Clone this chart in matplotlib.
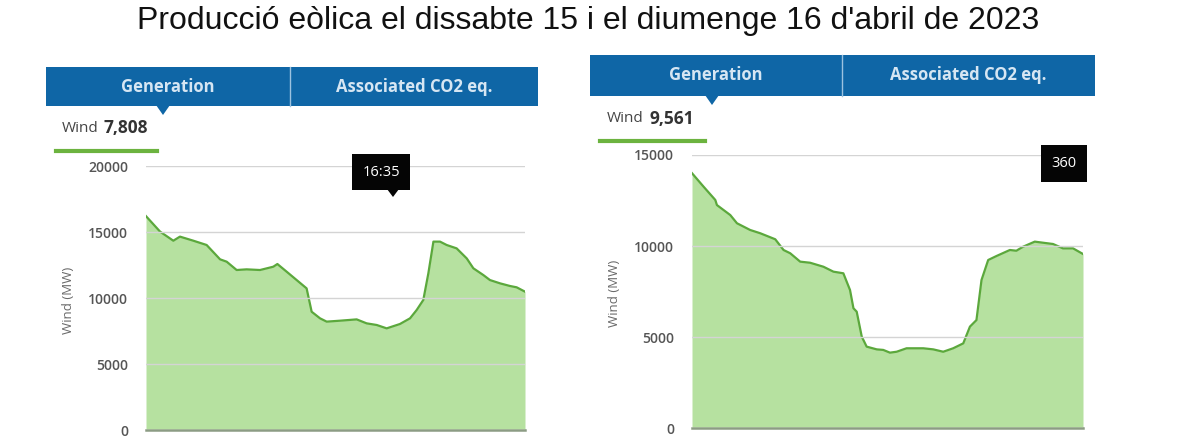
import matplotlib
matplotlib.use("Agg")
import matplotlib.pyplot as plt
from matplotlib.patches import Rectangle, Polygon

W, H = 1200, 448

# dades: hores i MW
sat_hours = [0, 0.89, 1.73, 2.15, 3.0, 3.84, 4.69, 5.11, 5.74, 6.37, 7.22, 8.06,
             8.32, 8.91, 9.54, 10.17, 10.49, 11.02, 11.44, 12.28, 13.34, 13.97,
             14.61, 15.24, 16.08, 16.72, 17.14, 17.56, 17.88, 18.20, 18.62, 19.04,
             19.67, 20.31, 20.73, 21.36, 21.78, 22.42, 23.05, 23.47, 24.0]
sat_wind = [16200, 15030, 14340, 14650, 14340, 14015, 12930, 12750, 12120, 12170,
            12120, 12370, 12575, 11990, 11360, 10730, 8960, 8460, 8210, 8280,
            8380, 8080, 7955, 7700, 8030, 8460, 9090, 9850, 11870, 14270, 14270,
            14015, 13760, 13000, 12250, 11740, 11360, 11110, 10910, 10810, 10480]

sun_hours = [0, 0.71, 1.43, 1.53, 2.35, 2.76, 3.57, 4.19, 5.11, 5.62, 6.03, 6.64,
             7.25, 8.07, 8.68, 9.29, 9.70, 9.91, 10.11, 10.42, 10.72, 11.34, 11.74,
             12.15, 12.56, 13.17, 14.2, 14.81, 15.42, 16.03, 16.65, 17.06, 17.46,
             17.77, 18.18, 18.69, 19.51, 19.91, 20.32, 21.04, 21.55, 22.16, 22.77,
             23.39, 24.0]
sun_wind = [14000, 13260, 12530, 12250, 11700, 11250, 10880, 10700, 10370, 9780,
            9600, 9140, 9080, 8860, 8590, 8500, 7580, 6580, 6390, 5020, 4470, 4320,
            4290, 4140, 4190, 4380, 4380, 4320, 4190, 4380, 4650, 5570, 5930, 8130,
            9230, 9450, 9780, 9740, 9960, 10240, 10180, 10110, 9870, 9870, 9560]

title = "Producció eòlica el dissabte 15 i el diumenge 16 d'abril de 2023"
tab_labels = ["Generation", "Associated CO2 eq."]

BLUE = "#0f66a6"
TABTXT = "#d6e6f3"
FILL = "#b6e1a0"
LINE = "#5ba83c"
GRID = "#d4d4d4"
TICK = "#555555"


def fx(px):
    return px / W


def fy(py):
    return 1 - py / H


fig = plt.figure(figsize=(12, 4.48), dpi=100)
fig.text(fx(588), fy(21), title, ha="center", va="center",
         fontsize=23, family="Liberation Sans", color="#111111")


def panel(x0, x1, ytop, ybot, hours, wind, ymax, step, hdr, div, tip, wind_pos,
          seg, box, box_txt, ylab_x):
    ax = fig.add_axes([fx(x0), fy(ybot), fx(x1) - fx(x0), fy(ytop) - fy(ybot)])
    ax.fill_between(hours, wind, 0, color=FILL, lw=0)
    ax.plot(hours, wind, color=LINE, lw=1.6)
    ax.set_xlim(0, 24)
    ax.set_ylim(0, ymax)
    ax.set_yticks(range(0, ymax + 1, step))
    ax.yaxis.grid(True, color=GRID, lw=1)
    ax.set_axisbelow(False)
    for g in ax.get_ygridlines():
        g.set_zorder(3)
    ax.set_xticks([])
    for s in ["top", "right", "left"]:
        ax.spines[s].set_visible(False)
    ax.spines["bottom"].set_color("#8c9c84")
    ax.spines["bottom"].set_linewidth(1.8)
    ax.tick_params(axis="y", length=0, pad=13, labelsize=10, labelcolor=TICK)
    for t in ax.get_yticklabels():
        t.set_family("Open Sans")
        t.set_fontweight("semibold")
    fig.text(fx(ylab_x), fy((ytop + ybot) / 2 + 2), "Wind (MW)", rotation=90,
             ha="center", va="center", fontsize=9.5, color="#6a6a6a",
             family="Open Sans")

    # pestanyes
    hx0, hx1, hy0, hy1 = hdr
    fig.add_artist(Rectangle((fx(hx0), fy(hy1)), fx(hx1) - fx(hx0),
                             fy(hy0) - fy(hy1), transform=fig.transFigure,
                             color=BLUE, lw=0))
    fig.add_artist(plt.Line2D([fx(div), fx(div)], [fy(hy1), fy(hy0)],
                              transform=fig.transFigure, color="#9cc2e0", lw=1))
    for lab, cx in zip(tab_labels, [(hx0 + div) / 2, (div + hx1) / 2]):
        fig.text(fx(cx), fy((hy0 + hy1) / 2), lab, ha="center", va="center",
                 fontsize=12, fontweight="bold", color=TABTXT, family="Open Sans")
    tx = tip
    fig.add_artist(Polygon([(fx(tx - 7), fy(hy1 - 1)), (fx(tx + 7), fy(hy1 - 1)),
                            (fx(tx), fy(hy1 + 9))], closed=True,
                           transform=fig.transFigure, color=BLUE, lw=0))

    # valor actual
    wx, nx, wy, val = wind_pos
    fig.text(fx(wx), fy(wy), "Wind", ha="left", va="center", fontsize=11,
             color="#444444", family="Open Sans")
    fig.text(fx(nx), fy(wy), val, ha="left", va="center", fontsize=12.5,
             fontweight="bold", color="#333333", family="Open Sans")
    sx0, sx1, sy = seg
    fig.add_artist(plt.Line2D([fx(sx0), fx(sx1)], [fy(sy), fy(sy)],
                              transform=fig.transFigure, color="#6cb33f", lw=3))

    # tooltip negre
    bx0, bx1, by0, by1, ptr = box
    fig.add_artist(Rectangle((fx(bx0), fy(by1)), fx(bx1) - fx(bx0),
                             fy(by0) - fy(by1), transform=fig.transFigure,
                             color="#050505", lw=0, zorder=5))
    if ptr:
        fig.add_artist(Polygon([(fx(ptr - 6), fy(by1 - 1)), (fx(ptr + 6), fy(by1 - 1)),
                                (fx(ptr), fy(by1 + 7))], closed=True,
                               transform=fig.transFigure, color="#050505", lw=0,
                               zorder=5))
    fig.text(fx((bx0 + bx1) / 2), fy((by0 + by1) / 2), box_txt, ha="center",
             va="center", fontsize=10.5, color="white", family="Open Sans", zorder=6)
    return ax


panel(146, 525, 166, 430, sat_hours, sat_wind, 20000, 5000,
      (46, 538, 67, 106), 290, 163, (62, 103, 128, "7,808"), (56, 157, 151),
      (352, 410, 154, 190, 393), "16:35", 69)

panel(692, 1083, 155, 428, sun_hours, sun_wind, 15000, 5000,
      (590, 1095, 55, 96), 842, 712, (607, 649, 119, "9,561"), (600, 705, 141),
      (1041, 1087, 145, 182, None), "360", 615)

fig.savefig("out.png", dpi=100)
